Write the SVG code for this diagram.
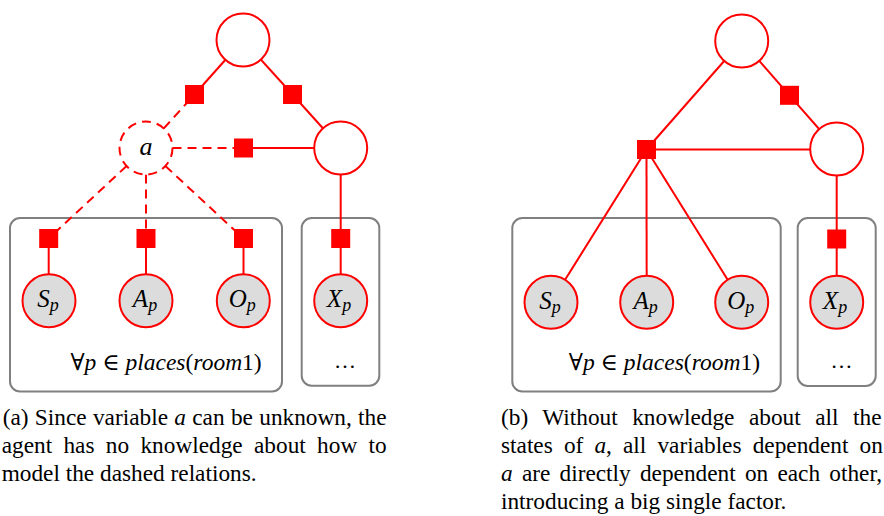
<svg xmlns="http://www.w3.org/2000/svg" width="884" height="516" viewBox="0 0 884 516">
  <style>
    .edge { stroke: #ff0000; stroke-width: 2; fill: none; }
    .dash { stroke-dasharray: 9 6; }
    .var { fill: #ffffff; stroke: #ff0000; stroke-width: 2; }
    .vardash { fill: #ffffff; stroke: #ff0000; stroke-width: 2; stroke-dasharray: 9 6; }
    .obs { fill: #dcdcdc; stroke: #ff0000; stroke-width: 2; }
    .fac { fill: #ff0000; }
    .plate { fill: none; stroke: #808080; stroke-width: 2; }
    text { font-family: "Liberation Serif", "DejaVu Serif", serif; fill: #000000; }
    .lbl { font-size: 25px; font-style: italic; text-anchor: middle; }
    .sub { font-size: 18px; }
    .math { font-size: 23.5px; text-anchor: end; }
    .it { font-style: italic; }
    .cap { font-size: 23.3px; }
  </style>

  <!-- ============ (a) left model ============ -->
  <g id="a-plates">
    <rect class="plate" x="10" y="218" width="272" height="173.5" rx="10"/>
    <rect class="plate" x="301.7" y="218" width="77.6" height="167.7" rx="10"/>
  </g>

  <g id="a-connectors">
    <!-- solid factor links -->
    <line class="edge" x1="243" y1="40" x2="194.5" y2="94.5"/>
    <line class="edge" x1="243" y1="40" x2="292.5" y2="94.5"/>
    <line class="edge" x1="292.5" y1="94.5" x2="340.7" y2="148"/>
    <line class="edge" x1="243.5" y1="148" x2="340.7" y2="148"/>
    <line class="edge" x1="340.7" y1="148" x2="340.7" y2="300.7"/>
    <line class="edge" x1="48.7" y1="238.5" x2="48.7" y2="300.7"/>
    <line class="edge" x1="146" y1="238.5" x2="146" y2="300.7"/>
    <line class="edge" x1="243.5" y1="238.5" x2="243.5" y2="300.7"/>
    <!-- dashed links from the unknown variable a -->
    <line class="edge dash" x1="163.8" y1="128.4" x2="194.5" y2="94.5"/>
    <line class="edge dash" x1="172.5" y1="148" x2="243.5" y2="148"/>
    <line class="edge dash" x1="126.6" y1="166" x2="48.7" y2="238.5"/>
    <line class="edge dash" x1="146" y1="174.5" x2="146" y2="238.5"/>
    <line class="edge dash" x1="165.4" y1="166" x2="243.5" y2="238.5"/>
  </g>

  <g id="a-top"><circle class="var" cx="243" cy="40" r="26.5"/></g>
  <g id="a-right"><circle class="var" cx="340.7" cy="148" r="26.5"/></g>
  <g id="a-var">
    <circle class="vardash" cx="146" cy="148" r="26.5"/>
    <text class="lbl" x="146" y="155" style="font-size:26px">a</text>
  </g>

  <g id="a-factors">
    <rect class="fac" x="185" y="85" width="19" height="19"/>
    <rect class="fac" x="283" y="85" width="19" height="19"/>
    <rect class="fac" x="234" y="138.5" width="19" height="19"/>
    <rect class="fac" x="39.2" y="229" width="19" height="19"/>
    <rect class="fac" x="136.5" y="229" width="19" height="19"/>
    <rect class="fac" x="234" y="229" width="19" height="19"/>
    <rect class="fac" x="331.2" y="229" width="19" height="19"/>
  </g>

  <g id="a-Sp"><circle class="obs" cx="49" cy="300.7" r="26.5"/><text class="lbl" x="48" y="307">S<tspan class="sub" dy="4">p</tspan></text></g>
  <g id="a-Ap"><circle class="obs" cx="146" cy="300.7" r="26.5"/><text class="lbl" x="145" y="307">A<tspan class="sub" dy="4">p</tspan></text></g>
  <g id="a-Op"><circle class="obs" cx="243.3" cy="300.7" r="26.5"/><text class="lbl" x="242.3" y="307">O<tspan class="sub" dy="4">p</tspan></text></g>
  <g id="a-Xp"><circle class="obs" cx="340.7" cy="300.7" r="26.5"/><text class="lbl" x="339" y="307">X<tspan class="sub" dy="4">p</tspan></text></g>

  <g id="a-plate-labels">
    <text class="math" x="261.7" y="370">∀<tspan class="it">p</tspan> ∈ <tspan class="it">places</tspan>(<tspan class="it">room</tspan>1)</text>
    <text x="345" y="368" style="font-size:22px;text-anchor:middle">…</text>
  </g>

  <!-- ============ (b) right model ============ -->
  <g id="b-plates">
    <rect class="plate" x="512.3" y="218" width="268.4" height="173.5" rx="10"/>
    <rect class="plate" x="797.7" y="218" width="78" height="168" rx="10"/>
  </g>

  <g id="b-connectors">
    <line class="edge" x1="646.5" y1="149.5" x2="741.7" y2="41"/>
    <line class="edge" x1="646.5" y1="149.5" x2="836.7" y2="149.5"/>
    <line class="edge" x1="646.5" y1="149.5" x2="551" y2="302.3"/>
    <line class="edge" x1="646.5" y1="149.5" x2="646.7" y2="302.3"/>
    <line class="edge" x1="646.5" y1="149.5" x2="741.7" y2="302.3"/>
    <line class="edge" x1="741.7" y1="41" x2="789.5" y2="95.3"/>
    <line class="edge" x1="789.5" y1="95.3" x2="836.7" y2="149"/>
    <line class="edge" x1="836.7" y1="149" x2="836.7" y2="302.3"/>
  </g>

  <g id="b-top"><circle class="var" cx="741.7" cy="41" r="26.5"/></g>
  <g id="b-right"><circle class="var" cx="836.7" cy="149" r="26.5"/></g>

  <g id="b-factors">
    <rect class="fac" x="780" y="85.8" width="19" height="19"/>
    <rect class="fac" x="637" y="140" width="19" height="19"/>
    <rect class="fac" x="827.2" y="229.5" width="19" height="19"/>
  </g>

  <g id="b-Sp"><circle class="obs" cx="551" cy="302.3" r="26.5"/><text class="lbl" x="550" y="308.6">S<tspan class="sub" dy="4">p</tspan></text></g>
  <g id="b-Ap"><circle class="obs" cx="646.7" cy="302.3" r="26.5"/><text class="lbl" x="645.7" y="308.6">A<tspan class="sub" dy="4">p</tspan></text></g>
  <g id="b-Op"><circle class="obs" cx="741.7" cy="302.3" r="26.5"/><text class="lbl" x="740.7" y="308.6">O<tspan class="sub" dy="4">p</tspan></text></g>
  <g id="b-Xp"><circle class="obs" cx="836.7" cy="302.3" r="26.5"/><text class="lbl" x="835" y="308.6">X<tspan class="sub" dy="4">p</tspan></text></g>

  <g id="b-plate-labels">
    <text class="math" x="760" y="370">∀<tspan class="it">p</tspan> ∈ <tspan class="it">places</tspan>(<tspan class="it">room</tspan>1)</text>
    <text x="841.5" y="368" style="font-size:22px;text-anchor:middle">…</text>
  </g>

  <!-- ============ captions ============ -->
  <g id="caption-a" class="cap">
    <text class="cap" x="2.7" y="425" style="word-spacing:0.5px">(a) Since variable <tspan class="it">a</tspan> can be unknown, the</text>
    <text class="cap" x="1.7" y="453" style="word-spacing:5.5px">agent has no knowledge about how to</text>
    <text class="cap" x="1.7" y="481">model the dashed relations.</text>
  </g>
  <g id="caption-b" class="cap">
    <text class="cap" x="501" y="425" style="word-spacing:8.7px">(b) Without knowledge about all the</text>
    <text class="cap" x="501" y="453" style="word-spacing:5.3px">states of <tspan class="it">a</tspan>, all variables dependent on</text>
    <text class="cap" x="501" y="481" style="word-spacing:3.4px"><tspan class="it">a</tspan> are directly dependent on each other,</text>
    <text class="cap" x="501" y="509">introducing a big single factor.</text>
  </g>
</svg>
